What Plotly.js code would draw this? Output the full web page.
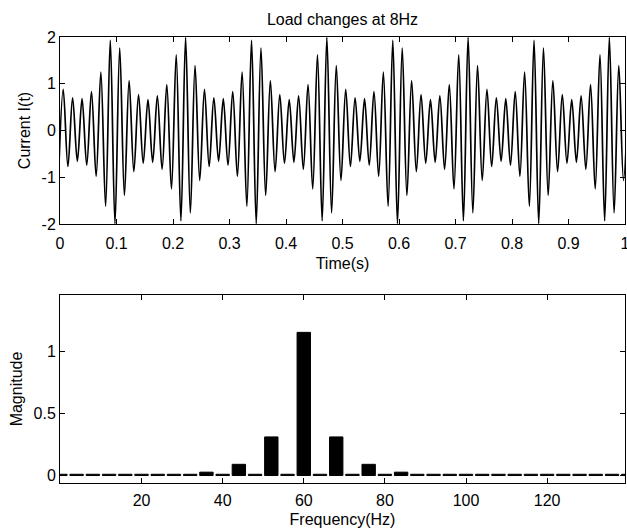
<!DOCTYPE html>
<html>
<head>
<meta charset="utf-8">
<script src="https://cdn.plot.ly/plotly-3.0.1.min.js"></script>
<style>
html,body{margin:0;padding:0;background:#fff;}
#chart{width:627px;height:532px;}
</style>
</head>
<body>
<div id="chart"></div>
<script>
// ---- Top panel: current waveform (extrema of each half cycle) ----
const time_s = [
-0.0027,
0.0057,0.0140,0.0223,0.0307,0.0390,0.0473,0.0557,0.0640,0.0723,0.0807,
0.0890,0.0973,0.1057,0.1140,0.1223,0.1307,0.1390,0.1473,0.1557,0.1640,
0.1723,0.1807,0.1890,0.1973,0.2057,0.2140,0.2223,0.2307,0.2390,0.2473,
0.2557,0.2640,0.2723,0.2807,0.2890,0.2973,0.3057,0.3140,0.3223,0.3307,
0.3390,0.3473,0.3557,0.3640,0.3723,0.3807,0.3890,0.3973,0.4057,0.4140,
0.4223,0.4307,0.4390,0.4473,0.4557,0.4640,0.4723,0.4807,0.4890,0.4973,
0.5057,0.5140,0.5223,0.5307,0.5390,0.5473,0.5557,0.5640,0.5723,0.5807,
0.5890,0.5973,0.6057,0.6140,0.6223,0.6307,0.6390,0.6473,0.6557,0.6640,
0.6723,0.6807,0.6890,0.6973,0.7057,0.7140,0.7223,0.7307,0.7390,0.7473,
0.7557,0.7640,0.7723,0.7807,0.7890,0.7973,0.8057,0.8140,0.8223,0.8307,
0.8390,0.8473,0.8557,0.8640,0.8723,0.8807,0.8890,0.8973,0.9057,0.9140,
0.9223,0.9307,0.9390,0.9473,0.9557,0.9640,0.9723,0.9807,0.9890,0.9973,
1.0057
];
const current = [
-1.07,
0.88,-0.77,0.70,-0.66,0.68,-0.74,0.83,-0.98,1.25,-1.62,
1.93,-1.99,1.76,-1.39,1.07,-0.88,0.77,-0.70,0.66,-0.68,
0.74,-0.83,0.98,-1.25,1.62,-1.93,1.99,-1.76,1.39,-1.07,
0.88,-0.77,0.70,-0.66,0.68,-0.74,0.83,-0.98,1.25,-1.62,
1.93,-1.99,1.76,-1.39,1.07,-0.88,0.77,-0.70,0.66,-0.68,
0.74,-0.83,0.98,-1.25,1.62,-1.93,1.99,-1.76,1.39,-1.07,
0.88,-0.77,0.70,-0.66,0.68,-0.74,0.83,-0.98,1.25,-1.62,
1.93,-1.99,1.76,-1.39,1.07,-0.88,0.77,-0.70,0.66,-0.68,
0.74,-0.83,0.98,-1.25,1.62,-1.93,1.99,-1.76,1.39,-1.07,
0.88,-0.77,0.70,-0.66,0.68,-0.74,0.83,-0.98,1.25,-1.62,
1.93,-1.99,1.76,-1.39,1.07,-0.88,0.77,-0.70,0.66,-0.68,
0.74,-0.83,0.98,-1.25,1.62,-1.93,1.99,-1.76,1.39,-1.07,
0.88
];
const timeTicks = [0,0.1,0.2,0.3,0.4,0.5,0.6,0.7,0.8,0.9,1];
const timeTickLabels = ['0','0.1','0.2','0.3','0.4','0.5','0.6','0.7','0.8','0.9','1'];
const currentTicks = [-2,-1,0,1,2];
const currentTickLabels = ['-2','-1','0','1','2'];

// ---- Bottom panel: spectrum magnitude ----
const freq_hz = [0,4,8,12,16,20,24,28,32,36,40,44,48,52,56,60,64,68,72,76,80,84,88,92,96,100,104,108,112,116,120,124,128,132,136,140];
const magnitude = [0.01,0.01,0.01,0.01,0.01,0.01,0.01,0.01,0.01,0.027,0.01,0.09,0.01,0.31,0.01,1.15,0.01,0.31,0.01,0.09,0.01,0.027,0.01,0.01,0.01,0.01,0.01,0.01,0.01,0.01,0.01,0.01,0.01,0.01,0.01,0.01];
const freqTicks = [20,40,60,80,100,120];
const magTicks = [0,0.5,1];
const magTickLabels = ['0','0.5','1'];

const FONT = {family:'"Liberation Sans", Arial, sans-serif', size:16, color:'#000'};

const axisCommon = {
  showgrid:false, zeroline:false, showline:true, linecolor:'#000', linewidth:1,
  mirror:'ticks', ticks:'inside', ticklen:5, tickwidth:1, tickcolor:'#000',
  tickfont:FONT, fixedrange:true, ticklabeloverflow:'allow'
};

const traces = [
  {
    x: time_s, y: current, type:'scatter', mode:'lines',
    line:{color:'#000', width:1.7, shape:'spline', smoothing:1},
    xaxis:'x', yaxis:'y', hoverinfo:'skip', showlegend:false
  },
  {
    x: freq_hz, y: magnitude, type:'bar', width:3.3,
    marker:{color:'#000', line:{color:'#000', width:1}},
    xaxis:'x2', yaxis:'y2', hoverinfo:'skip', showlegend:false
  }
];

const layout = {
  width:627, height:532,
  margin:{l:60, r:2, t:37, b:49},
  paper_bgcolor:'#fff', plot_bgcolor:'#fff',
  font:FONT,
  title:{text:'Load changes at 8Hz', font:FONT, xref:'paper', x:0.5, xanchor:'center', yref:'container', y:0.963, yanchor:'middle'},
  xaxis: Object.assign({}, axisCommon, {
    domain:[0,1], anchor:'y', range:[0,1],
    tickvals:timeTicks, ticktext:timeTickLabels, ticklabelstandoff:5,
    title:{text:'Time(s)', font:FONT, standoff:6}
  }),
  yaxis: Object.assign({}, axisCommon, {
    domain:[0.5807,1], anchor:'x', range:[-2,2],
    tickvals:currentTicks, ticktext:currentTickLabels,
    title:{text:'Current I(t)', font:FONT, standoff:6}
  }),
  xaxis2: Object.assign({}, axisCommon, {
    domain:[0,1], anchor:'y2', range:[-0.1,139.2],
    tickvals:freqTicks, ticklabelstandoff:3,
    title:{text:'Frequency(Hz)', font:FONT, standoff:5}
  }),
  yaxis2: Object.assign({}, axisCommon, {
    domain:[0,0.4215], anchor:'x2', range:[-0.06,1.45],
    tickvals:magTicks, ticktext:magTickLabels,
    title:{text:'Magnitude', font:FONT, standoff:6}
  }),
  bargap:0
};

Plotly.newPlot('chart', traces, layout, {displayModeBar:false, staticPlot:true});
</script>
</body>
</html>
